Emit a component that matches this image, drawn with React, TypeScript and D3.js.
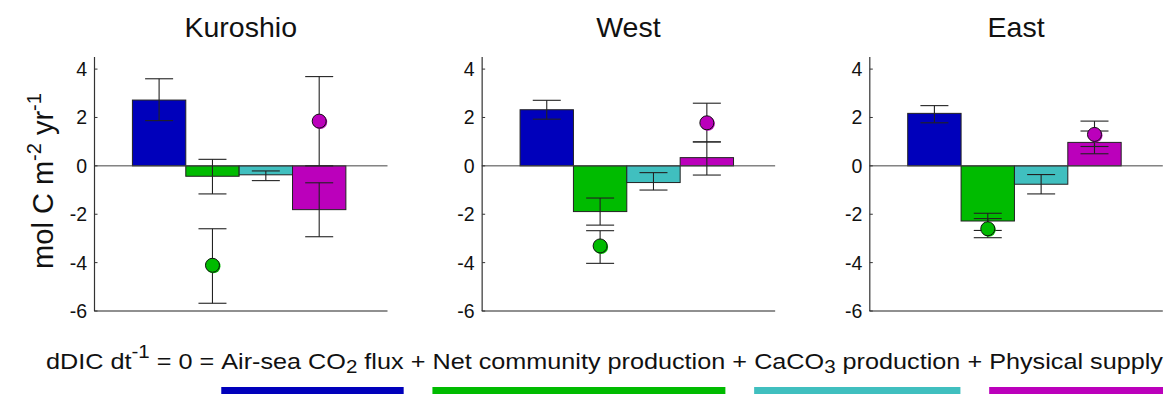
import React, { useEffect, useRef } from "react";
import * as d3 from "d3";

const regions = ["Kuroshio", "West", "East"];
const termColors = ["#0000BB", "#00BB00", "#40BFBF", "#BB00BB"];
const yTicks = [4, 2, 0, -2, -4, -6];

// Bar heights per region: air-sea flux, NCP, CaCO3 production, physical supply
const barValues = [
  [2.72, -0.43, -0.37, -1.81],
  [2.32, -1.89, -0.69, 0.34],
  [2.17, -2.28, -0.76, 0.97],
];
const barLow = [
  [1.87, -1.16, -0.61, -2.93],
  [1.93, -2.45, -1.0, -0.38],
  [1.78, -2.67, -1.16, 0.5],
];
const barHigh = [
  [3.6, 0.27, -0.21, -0.7],
  [2.71, -1.33, -0.28, 0.99],
  [2.49, -1.96, -0.36, 1.44],
];

// Independent estimates (circles) for NCP and physical supply
const pointTerms = [1, 3];
const pointValues = [
  [-4.11, 1.85],
  [-3.31, 1.78],
  [-2.6, 1.3],
];
const pointLow = [
  [-5.68, 0.0],
  [-4.03, 0.99],
  [-2.97, 0.8],
];
const pointHigh = [
  [-2.6, 3.69],
  [-2.68, 2.59],
  [-2.18, 1.85],
];

// Budget equation shown under the panels; colored segments get an underline.
// shift: 0 = baseline, "sup" = superscript, "sub" = subscript
type Seg = { t: string; pos?: "sup" | "sub" };
const legendParts: { segs: Seg[]; color?: string }[] = [
  { segs: [{ t: "dDIC dt" }, { t: "-1", pos: "sup" }, { t: "\u00A0=\u00A00\u00A0=\u00A0" }] },
  { segs: [{ t: "Air-sea CO" }, { t: "2", pos: "sub" }, { t: "\u00A0flux" }], color: termColors[0] },
  { segs: [{ t: "\u00A0+\u00A0" }] },
  { segs: [{ t: "Net community production" }], color: termColors[1] },
  { segs: [{ t: "\u00A0+\u00A0" }] },
  { segs: [{ t: "CaCO" }, { t: "3", pos: "sub" }, { t: "\u00A0production" }], color: termColors[2] },
  { segs: [{ t: "\u00A0+\u00A0" }] },
  { segs: [{ t: "Physical supply" }], color: termColors[3] },
];

const FONT = "'Liberation Sans', Arial, Helvetica, sans-serif";

export default function App() {
  const ref = useRef<SVGSVGElement | null>(null);

  useEffect(() => {
    const svg = d3.select(ref.current);
    svg.selectAll("*").remove();

    const panelW = 293.5;
    const panelStep = 387.65;
    const firstLeft = 94;
    const y = d3.scaleLinear().domain([-6, 4.5]).range([311, 57]);
    const x = d3.scaleLinear().domain([0, 5.5]).range([0, panelW]);
    const barOffset = 0.72;
    const capHalf = 14;

    regions.forEach((name, p) => {
      const g = svg.append("g").attr("transform", `translate(${firstLeft + p * panelStep},0)`);

      // title
      g.append("text")
        .attr("x", panelW / 2)
        .attr("y", 37)
        .attr("text-anchor", "middle")
        .attr("font-size", 28.5)
        .attr("font-family", FONT)
        .attr("fill", "#111")
        .text(name);

      // bars
      barValues[p].forEach((v, i) => {
        const x0 = x(i + barOffset);
        const x1 = x(i + barOffset + 1);
        g.append("rect")
          .attr("x", x0)
          .attr("y", Math.min(y(v), y(0)))
          .attr("width", x1 - x0)
          .attr("height", Math.abs(y(v) - y(0)))
          .attr("fill", termColors[i])
          .attr("stroke", "#222")
          .attr("stroke-width", 1);
      });

      // zero line
      g.append("line")
        .attr("x1", 0)
        .attr("x2", panelW)
        .attr("y1", y(0))
        .attr("y2", y(0))
        .attr("stroke", "#444")
        .attr("stroke-width", 1);

      const errorBar = (cx: number, lo: number, hi: number) => {
        const eg = g.append("g").attr("stroke", "#222").attr("stroke-width", 1.1).attr("fill", "none");
        eg.append("line").attr("x1", cx).attr("x2", cx).attr("y1", y(lo)).attr("y2", y(hi));
        eg.append("line").attr("x1", cx - capHalf).attr("x2", cx + capHalf).attr("y1", y(lo)).attr("y2", y(lo));
        eg.append("line").attr("x1", cx - capHalf).attr("x2", cx + capHalf).attr("y1", y(hi)).attr("y2", y(hi));
      };

      // bar error bars
      barValues[p].forEach((_, i) => {
        errorBar(x(i + barOffset + 0.5), barLow[p][i], barHigh[p][i]);
      });

      // point estimates with error bars
      pointTerms.forEach((ti, k) => {
        const cx = x(ti + barOffset + 0.5);
        errorBar(cx, pointLow[p][k], pointHigh[p][k]);
        const cy = y(pointValues[p][k]);
        g.append("circle")
          .attr("cx", cx + 1)
          .attr("cy", cy + 1)
          .attr("r", 7)
          .attr("fill", termColors[ti]);
        g.append("circle")
          .attr("cx", cx)
          .attr("cy", cy)
          .attr("r", 7)
          .attr("fill", termColors[ti])
          .attr("stroke", "#111")
          .attr("stroke-width", 1);
      });

      // axes
      g.append("line")
        .attr("x1", 0.5)
        .attr("x2", 0.5)
        .attr("y1", y.range()[1])
        .attr("y2", y.range()[0])
        .attr("stroke", "#333")
        .attr("stroke-width", 1.2);
      g.append("line")
        .attr("x1", 0)
        .attr("x2", panelW)
        .attr("y1", y.range()[0])
        .attr("y2", y.range()[0])
        .attr("stroke", "#222")
        .attr("stroke-width", 1.2);

      yTicks.forEach((t) => {
        g.append("line")
          .attr("x1", 0.5)
          .attr("x2", 3.5)
          .attr("y1", y(t))
          .attr("y2", y(t))
          .attr("stroke", "#333")
          .attr("stroke-width", 1);
        g.append("text")
          .attr("x", -7)
          .attr("y", y(t))
          .attr("dy", "0.36em")
          .attr("text-anchor", "end")
          .attr("font-size", 19.5)
          .attr("font-family", FONT)
          .attr("fill", "#111")
          .text(t < 0 ? `-${Math.abs(t)}` : `${t}`);
      });
    });

    // y-axis label
    const yl = svg
      .append("text")
      .attr("transform", "translate(53,181) rotate(-90)")
      .attr("text-anchor", "middle")
      .attr("font-size", 29)
      .attr("font-family", FONT)
      .attr("fill", "#111");
    yl.append("tspan").text("mol C m");
    yl.append("tspan").attr("dy", -12).attr("font-size", 20).text("-2");
    yl.append("tspan").attr("dy", 12).text("\u00A0yr");
    yl.append("tspan").attr("dy", -12).attr("font-size", 20).text("-1");

    // budget equation with colored underlines (drawn in local coordinates,
    // then stretched horizontally to span the width under the panels)
    const startX = 46;
    const endX = 1163;
    const lg = svg.append("g");
    let cursor = 0;
    const baseY = 369;
    const fs = 21.5;
    const shiftOf = (pos?: "sup" | "sub") => (pos === "sup" ? -11 : pos === "sub" ? 4.5 : 0);
    const bars: { x: number; w: number; color: string }[] = [];
    legendParts.forEach((part) => {
      const txt = lg
        .append("text")
        .attr("x", cursor)
        .attr("y", baseY)
        .attr("font-size", fs)
        .attr("font-family", FONT)
        .attr("fill", "#111")
        .style("white-space", "pre");
      let prev = 0;
      part.segs.forEach((sg) => {
        const s = shiftOf(sg.pos);
        const ts = txt.append("tspan").attr("dy", s - prev).text(sg.t);
        if (sg.pos) ts.attr("font-size", 17.5);
        prev = s;
      });
      const w = (txt.node() as SVGTextElement).getComputedTextLength();
      if (part.color) bars.push({ x: cursor, w, color: part.color });
      cursor += w;
    });
    bars.forEach((b) => {
      lg.append("rect").attr("x", b.x).attr("y", 387).attr("width", b.w).attr("height", 8).attr("fill", b.color);
    });
    const sx = (endX - startX) / cursor;
    lg.attr("transform", `translate(${startX},0) scale(${sx},1)`);
  }, []);

  return (
    <svg
      ref={ref}
      width={1168}
      height={394}
      style={{ position: "absolute", left: 0, top: 0, background: "#fff" }}
    />
  );
}
